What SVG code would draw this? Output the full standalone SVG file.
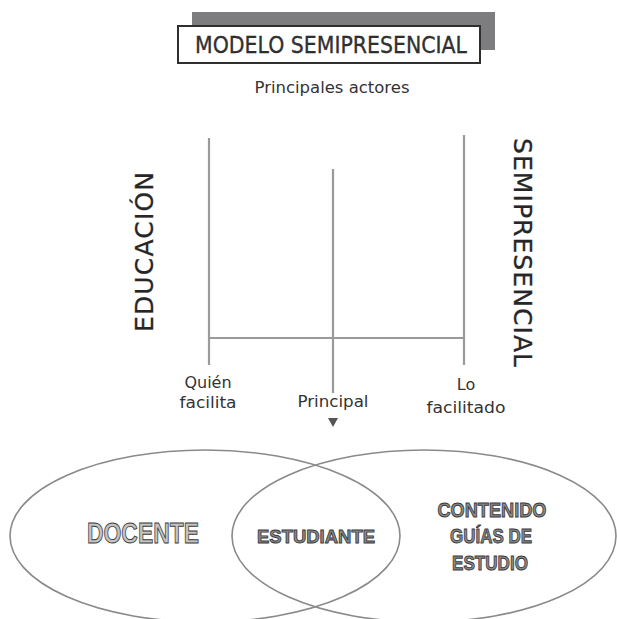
<svg xmlns="http://www.w3.org/2000/svg" width="617" height="619" viewBox="0 0 617 619">
<style>
.lbl{font-family:"DejaVu Sans","Noto Sans",sans-serif;fill:#333;text-anchor:middle}
.big{font-family:"DejaVu Sans","Noto Sans",sans-serif;fill:#262626;font-size:25px;stroke:#262626;stroke-width:0.3}
.ln{stroke:#9a9a9a;stroke-width:2.2;fill:none}
.ell{fill:none;stroke:#8a8a8a;stroke-width:1.6}
.venn{font-family:"Liberation Sans Narrow","Liberation Sans",Arial,sans-serif;font-weight:bold;text-anchor:middle;stroke:#3a3a3a;stroke-width:0.9}
</style>
<rect width="617" height="619" fill="#fff"/>
<g id="title">
  <rect x="192" y="12" width="303" height="38" fill="#7d7d7f"/>
  <rect x="178" y="26" width="302" height="37" fill="#fff" stroke="#2f2f2f" stroke-width="2"/>
  <text x="331" y="53" class="lbl" font-size="23" textLength="272" lengthAdjust="spacingAndGlyphs" fill="#222" stroke="#222" stroke-width="0.3">MODELO SEMIPRESENCIAL</text>
</g>
<g id="subtitle">
  <text x="332" y="93" class="lbl" font-size="15" textLength="155" lengthAdjust="spacingAndGlyphs">Principales actores</text>
</g>
<g id="educacion">
  <text class="big" transform="translate(153,332) rotate(-90)" textLength="160" lengthAdjust="spacing">EDUCACIÓN</text>
</g>
<g id="semipresencial">
  <text class="big" transform="translate(514,138) rotate(90)" textLength="229" lengthAdjust="spacing">SEMIPRESENCIAL</text>
</g>
<g id="connectors">
  <line class="ln" x1="209" y1="138" x2="209" y2="365"/>
  <line class="ln" x1="464" y1="135" x2="464" y2="365"/>
  <line class="ln" x1="333" y1="169" x2="333" y2="393"/>
  <line class="ln" x1="209" y1="338" x2="464" y2="338"/>
  <polygon points="328,418 338,418 333,427" fill="#555"/>
</g>
<g id="quien">
  <text class="lbl" font-size="16" x="208" y="388">Quién</text>
  <text class="lbl" font-size="16" x="208" y="408" textLength="57" lengthAdjust="spacingAndGlyphs">facilita</text>
</g>
<g id="principal">
  <text class="lbl" font-size="16" x="333" y="407" textLength="71" lengthAdjust="spacingAndGlyphs">Principal</text>
</g>
<g id="facilitado">
  <text class="lbl" font-size="16" x="466" y="390">Lo</text>
  <text class="lbl" font-size="16" x="466" y="413" textLength="79" lengthAdjust="spacingAndGlyphs">facilitado</text>
</g>
<g id="docente">
  <ellipse class="ell" cx="205" cy="536" rx="195" ry="86"/>
  <text class="venn" x="143" y="543" font-size="29" fill="#c4c4c4" textLength="112" lengthAdjust="spacingAndGlyphs">DOCENTE</text>
</g>
<g id="contenido">
  <ellipse class="ell" cx="424" cy="536" rx="192" ry="86"/>
  <text class="venn" x="492" y="517" font-size="20" fill="#8a8a8a" textLength="109" lengthAdjust="spacingAndGlyphs">CONTENIDO</text>
  <text class="venn" x="491" y="543" font-size="20" fill="#8a8a8a" textLength="82" lengthAdjust="spacingAndGlyphs">GUÍAS DE</text>
  <text class="venn" x="490" y="570" font-size="20" fill="#8a8a8a" textLength="76" lengthAdjust="spacingAndGlyphs">ESTUDIO</text>
</g>
<g id="estudiante">
  <text class="venn" x="316" y="543" font-size="19" fill="#8a8a8a" textLength="118" lengthAdjust="spacingAndGlyphs">ESTUDIANTE</text>
</g>
</svg>
